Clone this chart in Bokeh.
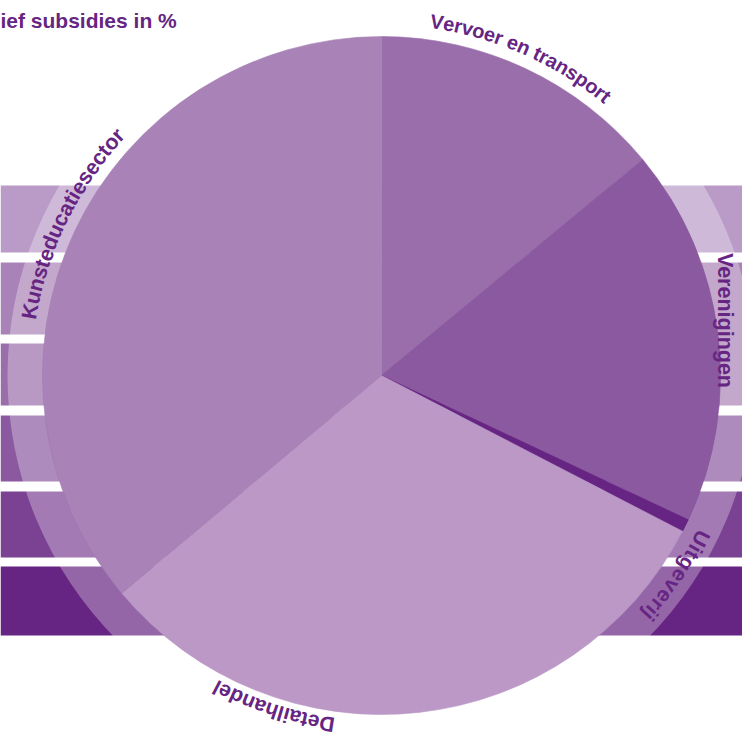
import math
from bokeh.plotting import figure
from bokeh.models import Range1d, ColumnDataSource
from bokeh.embed import file_html
from bokeh.resources import INLINE
from bokeh.core.properties import value

# ---- data ----
categories = ["Vervoer en transport", "Verenigingen", "Uitgeverij", "Detailhandel", "Kunsteducatiesector"]
shares = [14.0, 18.0, 0.6, 31.3, 36.1]
slice_colors = ["#9a6eab", "#8a599f", "#662582", "#bb98c6", "#a983b7"]
title_text = "ief subsidies in %"

# decorative background bands (photo pixel rows)
band_colors = ["#ba9bc8", "#a983b7", "#9a6eab", "#8a599f", "#7b4193", "#662582"]
band_tops = [185, 262, 343, 415, 491, 566]
band_bottoms = [252, 334, 405, 481, 557, 635]
# right-hand side: no gap between the 2nd and 3rd band
rband_colors = ["#ba9bc8", "#a983b7", "#8a599f", "#7b4193", "#662582"]
rband_tops = [185, 262, 415, 491, 566]
rband_bottoms = [252, 405, 481, 557, 635]

# ---- layout ----
W, H = 742, 737
CX, CY = 381, 375
R = 339
RING_R = 374
TXT = "#662582"
FONT = "Liberation Sans"

label_layout = {
    "Vervoer en transport": dict(mode="arc", center=66.4, radius=358, size=20, track=1.0),
    "Verenigingen": dict(mode="straight", x=724, y=320, size=21.5),
    "Uitgeverij": dict(mode="arc", center=-34.1, radius=359, size=21, track=1.1),
    "Detailhandel": dict(mode="arc", center=-108.0, radius=353, size=21, track=1.02),
    "Kunsteducatiesector": dict(mode="arc", center=153.9, radius=357, size=21.4, track=1.0),
}

# Arial/Liberation Sans Bold advance widths (per 1000 em)
ADV = {" ": 278, "a": 556, "c": 556, "d": 611, "e": 556, "g": 611, "h": 611, "i": 278,
       "j": 278, "l": 278, "n": 611, "o": 611, "p": 611, "r": 389, "s": 556, "t": 333,
       "u": 611, "v": 556, "D": 722, "K": 722, "U": 722, "V": 667}

p = figure(width=W, height=H, x_range=Range1d(0, W), y_range=Range1d(-H, 0),
           output_backend="svg", toolbar_location=None, min_border=0,
           x_axis_location=None, y_axis_location=None)
p.grid.visible = False
p.outline_line_color = None
p.background_fill_color = "white"
p.border_fill_color = "white"

# background bands
p.quad(left=0, right=CX, top=[-t for t in band_tops], bottom=[-b for b in band_bottoms],
       fill_color=band_colors, line_color=None)
p.quad(left=CX, right=W, top=[-t for t in rband_tops], bottom=[-b for b in rband_bottoms],
       fill_color=rband_colors, line_color=None)

# translucent ring around the pie
p.annulus(x=CX, y=-CY, inner_radius=R, outer_radius=RING_R, fill_color="white",
          fill_alpha=0.3, line_color=None)

# pie slices
total = sum(shares)
starts, ends = [], []
cum = 0.0
for s in shares:
    starts.append(math.radians(90 - cum / total * 360))
    cum += s
    ends.append(math.radians(90 - cum / total * 360))
pie_src = ColumnDataSource(dict(cat=categories, share=shares, start=starts, end=ends, color=slice_colors))
p.wedge(x=CX, y=-CY, radius=R, start_angle="start", end_angle="end", direction="clock",
        fill_color="color", line_color="color", line_width=0.6, source=pie_src)

# labels (characters along the circle, clockwise, tops outward)
for cat in categories:
    lay = label_layout[cat]
    fs = lay["size"]
    xs, ys, ts, angs = [], [], [], []
    if lay["mode"] == "straight":
        xs.append(lay["x"]); ys.append(-lay["y"]); ts.append(cat); angs.append(-math.pi / 2)
    else:
        widths = [ADV[ch] / 1000 * fs * lay["track"] for ch in cat]
        L = sum(widths)
        rm = lay["radius"]
        phic = math.radians(lay["center"])
        pos = 0.0
        for ch, w in zip(cat, widths):
            sc = pos + w / 2
            pos += w
            if ch == " ":
                continue
            phi = phic + (L / 2 - sc) / rm
            xs.append(CX + rm * math.cos(phi))
            ys.append(-CY + rm * math.sin(phi))
            ts.append(ch)
            angs.append(phi - math.pi / 2)
    src = ColumnDataSource(dict(x=xs, y=ys, text=ts, angle=angs))
    p.text(x="x", y="y", text="text", angle="angle", source=src,
           text_font=value(FONT), text_font_style="bold", text_font_size=f"{fs}px",
           text_color=TXT, text_align="center", text_baseline="middle")

# title (cut-off in the original)
p.text(x=[0], y=[-20], text=[title_text], text_font=value(FONT), text_font_style="bold",
       text_font_size="21px", text_color=TXT, text_align="left", text_baseline="alphabetic")

open("out.html", "w").write(file_html(p, INLINE))
